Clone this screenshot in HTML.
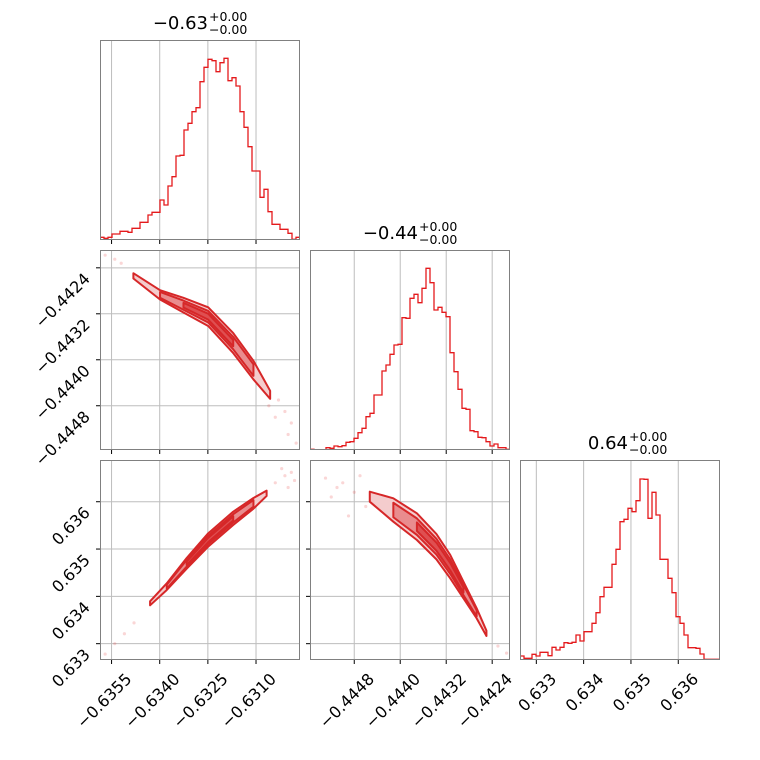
<!DOCTYPE html>
<html><head><meta charset="utf-8"><style>
html,body{margin:0;padding:0;background:#fff}
svg{display:block;font-family:"DejaVu Sans","Liberation Sans",sans-serif}
</style></head><body>
<svg id="c" width="760" height="760" xmlns="http://www.w3.org/2000/svg"></svg>
<script>
// ---- data ----
const p1Ticks=[-0.6355,-0.6340,-0.6325,-0.6310];
const p1Labels=["−0.6355","−0.6340","−0.6325","−0.6310"];
const p2Ticks=[-0.4448,-0.4440,-0.4432,-0.4424];
const p2Labels=["−0.4448","−0.4440","−0.4432","−0.4424"];
const p3Ticks=[0.633,0.634,0.635,0.636];
const p3Labels=["0.633","0.634","0.635","0.636"];
const p1Range=[-0.63586,-0.62963];
const p2Range=[-0.44557,-0.44209];
const p3Range=[0.632655,0.636882];
const hist1=[8,5,8,18,18,26,26,23,35,35,53,53,75,83,83,120,105,162,190,252,254,330,350,385,397,475,518,542,538,505,532,545,478,487,462,385,338,280,207,207,128,152,85,47,47,32,32,20,2,8];
const hist2=[2,0,0,0,7,5,12,10,13,23,25,35,52,65,100,110,165,165,237,255,287,315,317,397,395,455,467,442,485,545,502,420,428,413,400,292,235,182,125,122,58,55,38,37,25,12,18,7,7,2];
const hist3=[12,5,5,17,12,23,23,13,38,30,38,52,50,53,75,57,85,85,110,142,190,218,218,287,332,415,422,455,445,478,543,542,425,503,435,302,302,245,202,130,110,75,37,37,35,18,2,2,2,2];
const titles=[["−0.63","+0.00","−0.00"],["−0.44","+0.00","−0.00"],["0.64","+0.00","−0.00"]];
// ridge (contour) data: x, y center, half-width
const r10x=[-0.63482,-0.63399,-0.63326,-0.63249,-0.63171,-0.63108,-0.63056];
const r10y=[-0.44254,-0.44287,-0.44305,-0.44325,-0.44371,-0.44418,-0.44461];
const r10w=[0.000046,0.000081,0.000128,0.000162,0.000174,0.000162,0.00007];
const r20x=[-0.63430,-0.63378,-0.63316,-0.63249,-0.63171,-0.63108,-0.63067];
const r20y=[0.633853,0.634205,0.634698,0.635191,0.635649,0.635966,0.636178];
const r20w=[0.000042,0.00007,0.000113,0.000141,0.000141,0.000113,0.000056];
const r21x=[-0.44453,-0.44412,-0.44371,-0.44337,-0.44313,-0.44290,-0.44267,-0.44250];
const r21y=[0.636107,0.635825,0.635473,0.635050,0.634628,0.634135,0.633641,0.633219];
const r21w=[0.000106,0.000247,0.000282,0.000268,0.000247,0.000176,0.000106,0.000056];
const levels=[1,0.62,0.32];
// faint outlier samples
const s10x=[-0.63570,-0.63540,-0.63520,-0.63010,-0.62990,-0.63030,-0.63000,-0.62975,-0.63060,-0.63040];
const s10y=[-0.44218,-0.44225,-0.44232,-0.44490,-0.44510,-0.44470,-0.44530,-0.44545,-0.44480,-0.44500];
const s20x=[-0.63570,-0.63540,-0.63510,-0.63480,-0.63040,-0.63010,-0.62990,-0.63000,-0.63020,-0.62980];
const s20y=[0.632780,0.633000,0.633210,0.633440,0.636400,0.636550,0.636620,0.636300,0.636700,0.636450];
const s21x=[-0.44530,-0.44500,-0.44470,-0.44520,-0.44490,-0.44230,-0.44215,-0.44510,-0.44480,-0.44460];
const s21y=[0.636500,0.636400,0.636550,0.636100,0.635700,0.632950,0.632800,0.636300,0.636200,0.635900];

// ---- drawing ----
const NS="http://www.w3.org/2000/svg";
const svg=document.getElementById('c');
function mk(t,a,p){const e=document.createElementNS(NS,t);for(const k in a)e.setAttribute(k,a[k]);(p||svg).appendChild(e);return e;}
const colX=[100,310,520], rowY=[40,250,460], S=200;
const ranges=[p1Range,p2Range,p3Range];
const ticks=[p1Ticks,p2Ticks,p3Ticks];
const labels=[p1Labels,p2Labels,p3Labels];
function sx(col,v){const r=ranges[col];return colX[col]+(v-r[0])/(r[1]-r[0])*S;}
function sy(row,v){const r=ranges[row];return rowY[row]+S-(v-r[0])/(r[1]-r[0])*S;}

function panel(row,col){
  const g=mk('g',{});
  
  
  const x0=colX[col],y0=rowY[row];
  const cp=mk('clipPath',{id:'cp'+row+col},g);
  mk('rect',{x:x0,y:y0,width:S,height:S},cp);
  ticks[col].forEach(t=>{const gl=mk('line',{x1:sx(col,t),x2:sx(col,t),y1:y0,y2:y0+S,stroke:'#bdbdbd','stroke-width':1},g);
    });
  if(row!==col) ticks[row].forEach(t=>{const gl=mk('line',{x1:x0,x2:x0+S,y1:sy(row,t),y2:sy(row,t),stroke:'#bdbdbd','stroke-width':1},g);
    });
  const inner=mk('g',{'clip-path':'url(#cp'+row+col+')'},g);
  if(row===col){
    const h=[hist1,hist2,hist3][col];const r=ranges[col];const bw=(r[1]-r[0])/h.length;
    let d='';
    h.forEach((c,i)=>{const xa=sx(col,r[0]+i*bw),xb=sx(col,r[0]+(i+1)*bw),yy=y0+S-c/600*S;
      d+=(i===0?'M'+xa+','+yy:'L'+xa+','+yy)+'L'+xb+','+yy;});
    const p=mk('path',{d:d,fill:'none',stroke:'#e41a1c','stroke-width':1.3},inner);
    
  } else {
    const R={ '10':[r10x,r10y,r10w,s10x,s10y],'20':[r20x,r20y,r20w,s20x,s20y],'21':[r21x,r21y,r21w,s21x,s21y]}[''+row+col];
    const [rx,ry,rw,qx,qy]=R;
    qx.forEach((v,i)=>{const c=mk('circle',{cx:sx(col,v),cy:sy(row,qy[i]),r:1.6,fill:'#e41a1c','fill-opacity':0.18},inner);
      });
    const fills=['#f4cccd','#e98c8e','#df4f51'];
    levels.forEach((lv,li)=>{
      const n=rx.length;const a=li===0?0:(li===1?1:2),b=li===0?n-1:(li===1?n-2:n-3);
      let up=[],dn=[];
      for(let i=a;i<=b;i++){const w=rw[i]*lv;up.push(sx(col,rx[i])+','+sy(row,ry[i]+w));dn.unshift(sx(col,rx[i])+','+sy(row,ry[i]-w));}
      const p=mk('polygon',{points:up.concat(dn).join(' '),fill:fills[li],stroke:'#d62728','stroke-width':2,'stroke-linejoin':'round'},inner);
      
    });
  }
  const fr=mk('rect',{x:x0+0.5,y:y0+0.5,width:S-1,height:S-1,fill:'none',stroke:'#808080','stroke-width':1},g);
  
  ticks[col].forEach((t,i)=>{const x=sx(col,t);mk('line',{x1:x,x2:x,y1:y0+S,y2:y0+S+4,stroke:'#000'},g);
    if(row===2){const tx=mk('text',{transform:'translate('+(x+21)+','+(y0+S+20)+') rotate(-45)','text-anchor':'end','font-size':16,fill:'#000'},g);
      tx.textContent=labels[col][i];}});
  if(row!==col){ticks[row].forEach((t,i)=>{const y=sy(row,t);mk('line',{x1:x0-4,x2:x0,y1:y,y2:y,stroke:'#000'},g);
    if(col===0){const tx=mk('text',{transform:'translate('+(x0-9)+','+(y+12)+') rotate(-45)','text-anchor':'end','font-size':16,fill:'#000'},g);
      tx.textContent=labels[row][i];}});}
}
[[0,0],[1,0],[1,1],[2,0],[2,1],[2,2]].forEach(([r,c])=>panel(r,c));
titles.forEach((t,i)=>{
  const cx=colX[i]+S/2,ty=rowY[i]-11;
  const g=mk('g',{});
  const m=mk('text',{x:cx+8,y:ty,'text-anchor':'end','font-size':18,fill:'#000'},g);m.textContent=t[0];
  const a=mk('text',{x:cx+9,y:ty-8,'font-size':12.5,fill:'#000'},g);a.textContent=t[1];
  const b=mk('text',{x:cx+9,y:ty+5,'font-size':12.5,fill:'#000'},g);b.textContent=t[2];
});
</script>
</body></html>
